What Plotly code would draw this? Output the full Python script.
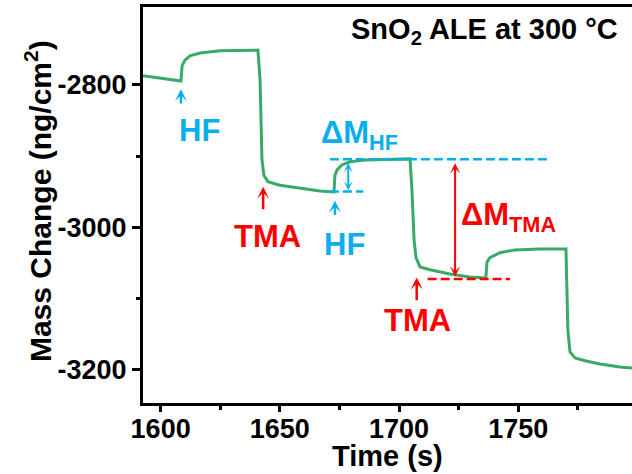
import plotly.graph_objects as go

# ---- data ----
time_s = [1592.6, 1600.0, 1608.5,
          1609.0, 1610.2, 1612.3, 1616.5, 1624.9, 1633.3, 1640.8,
          1641.7, 1642.1, 1642.5, 1643.3, 1645.0, 1650.0, 1658.4, 1666.8, 1672.7,
          1673.1, 1674.0, 1676.0, 1679.4, 1685.7, 1704.6,
          1705.4, 1706.3, 1707.1, 1708.8, 1713.0, 1721.3, 1729.7, 1736.4,
          1736.9, 1738.1, 1742.3, 1748.6, 1759.0, 1770.0,
          1770.4, 1770.8, 1771.7, 1773.8, 1778.0, 1784.3, 1792.6, 1797.7]
mass_change = [-2787, -2790, -2794.4,
               -2773, -2765, -2759, -2755, -2752, -2751, -2751,
               -2793, -2849, -2905, -2927, -2936, -2941, -2945, -2949, -2950.5,
               -2927, -2919.5, -2912.5, -2908, -2905.5, -2904,
               -2947.7, -3018, -3043, -3056, -3060, -3066, -3070, -3071.5,
               -3049, -3043, -3036, -3032, -3030.6, -3030.6,
               -3074, -3144.6, -3175.5, -3184, -3188, -3192.4, -3196.6, -3198]

x_ticks = [1600, 1650, 1700, 1750]
x_tick_labels = ["1600", "1650", "1700", "1750"]
x_minor = [1625, 1675, 1725, 1775]
y_ticks = [-3200, -3000, -2800]
y_tick_labels = ["-3200", "-3000", "-2800"]
y_minor = [-3100, -2900]

# reference levels used in the annotation
hf_top_level = -2904.5
hf_base_level = -2950
tma_base_level = -3073

GREEN = "#37AB66"
CYAN = "#0AAEEE"
RED = "#FF0000"
FONT = "Liberation Sans, Arial, sans-serif"

fig = go.Figure()
fig.add_trace(go.Scatter(x=time_s, y=mass_change, mode="lines",
                         line=dict(color=GREEN, width=3), showlegend=False,
                         hoverinfo="skip"))

# dashed guide lines
fig.add_trace(go.Scatter(x=[1671, 1762], y=[hf_top_level, hf_top_level], mode="lines",
                         line=dict(color=CYAN, width=2.5, dash="9px,4px"),
                         showlegend=False, hoverinfo="skip"))
fig.add_trace(go.Scatter(x=[1671, 1685], y=[hf_base_level, hf_base_level], mode="lines",
                         line=dict(color=CYAN, width=2.5, dash="9px,4px"),
                         showlegend=False, hoverinfo="skip"))
fig.add_trace(go.Scatter(x=[1712, 1746.5], y=[tma_base_level, tma_base_level], mode="lines",
                         line=dict(color=RED, width=2.5, dash="9px,4px"),
                         showlegend=False, hoverinfo="skip"))

ann = []

def arrow(x, y, ax, ay, color, both=False, width=2.5, size=0.8):
    d = dict(x=x, y=y, ax=ax, ay=ay, xref="x", yref="y", axref="x", ayref="y",
             text="", showarrow=True, arrowcolor=color, arrowwidth=width,
             arrowhead=3, arrowsize=size)
    if both:
        d.update(arrowside="end+start", startarrowhead=3, startarrowsize=size)
    ann.append(d)

def label(x, y, text, color, size=31, xanchor="center"):
    ann.append(dict(x=x, y=y, xref="x", yref="y", text="<b>" + text + "</b>",
                    showarrow=False, xanchor=xanchor, yanchor="middle",
                    font=dict(family=FONT, size=size, color=color)))

# HF 1
arrow(1608.5, -2806, 1608.5, -2828, CYAN)
label(1616.1, -2864, "HF", CYAN)
# TMA 1
arrow(1643.0, -2943, 1643.0, -2977, RED)
label(1644.7, -3013, "TMA", RED)
# HF 2
arrow(1673.1, -2963, 1673.1, -2985, CYAN)
label(1677.0, -3024, "HF", CYAN)
# TMA 2
arrow(1707.4, -3071, 1707.4, -3105, RED)
label(1707.8, -3132, "TMA", RED)
# delta M HF
arrow(1678.7, -2948, 1678.7, -2908, CYAN, both=True, width=2, size=0.75)
label(1666.5, -2870, "ΔM<sub>HF</sub>", CYAN, xanchor="left")
# delta M TMA
arrow(1723.5, -3069.5, 1723.5, -2908, RED, both=True, width=2, size=0.85)
label(1725.0, -2986, "ΔM<sub>TMA</sub>", RED, xanchor="left")

# title annotation
ann.append(dict(x=0.975, y=0.94, xref="paper", yref="paper", xanchor="right",
                yanchor="middle", showarrow=False,
                text="<b>SnO<sub>2</sub> ALE at 300 °C</b>",
                font=dict(family=FONT, size=29, color="black")))

# axis titles
ann.append(dict(x=0.5, y=-0.134, xref="paper", yref="paper", xanchor="center",
                yanchor="middle", showarrow=False, text="<b>Time (s)</b>",
                font=dict(family=FONT, size=29, color="black")))
ann.append(dict(x=-0.2147, y=0.51, xref="paper", yref="paper", xanchor="center",
                yanchor="middle", showarrow=False, textangle=-90,
                text="<b>Mass Change (ng/cm<sup>2</sup>)</b>",
                font=dict(family=FONT, size=30, color="black")))

fig.update_layout(
    width=632, height=474,
    margin=dict(l=143, r=0, t=7, b=71),
    paper_bgcolor="white", plot_bgcolor="white",
    annotations=ann,
    font=dict(family=FONT, color="black"),
    xaxis=dict(range=[1592.6, 1797.7], showgrid=False, zeroline=False,
               showline=True, linecolor="black", linewidth=3, mirror=True,
               ticks="outside", ticklen=6, tickwidth=2.5, tickcolor="black",
               tickvals=x_ticks, ticktext=["<b>%s</b>" % t for t in x_tick_labels],
               tickfont=dict(family=FONT, size=27, color="black"),
               ticklabelstandoff=-6,
               minor=dict(tickvals=x_minor, ticks="outside", ticklen=4,
                          tickwidth=2.5, tickcolor="black")),
    yaxis=dict(range=[-3247.4, -2690.3], showgrid=False, zeroline=False,
               showline=True, linecolor="black", linewidth=3, mirror=False,
               ticks="outside", ticklen=8, tickwidth=2.5, tickcolor="black",
               tickvals=y_ticks, ticktext=["<b>%s</b>" % t for t in y_tick_labels],
               tickfont=dict(family=FONT, size=27, color="black"),
               minor=dict(tickvals=y_minor, ticks="outside", ticklen=4,
                          tickwidth=2.5, tickcolor="black")),
)

fig.write_html("out.html")
